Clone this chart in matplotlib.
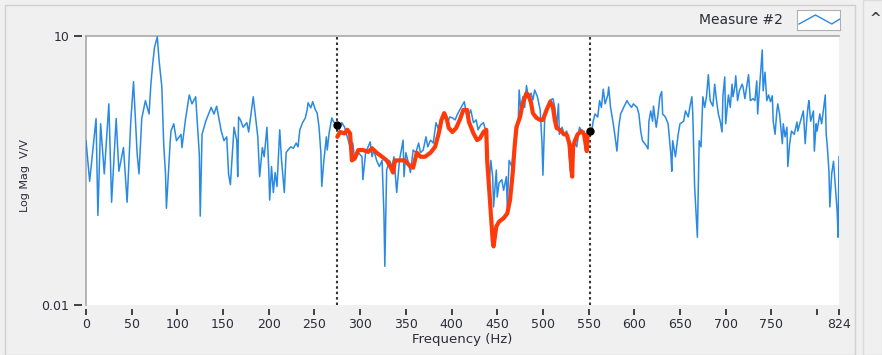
import matplotlib
matplotlib.use("Agg")
import matplotlib.pyplot as plt
import matplotlib.ticker as ticker
from matplotlib.lines import Line2D
from matplotlib.patches import Rectangle

# measured trace (Measure #2)
freq_blue = [
    0, 4, 11, 13, 16, 20, 25, 28, 33, 36,
    41, 45, 49, 52, 56, 58, 61, 65, 69, 71,
    73, 75, 78, 80, 83, 85, 87, 88, 92, 93,
    96, 99, 104, 105, 109, 113, 116, 120, 124, 125,
    127, 131, 137, 140, 143, 148, 151, 154, 156, 158,
    162, 165, 166, 167, 169, 172, 176, 178, 183, 185,
    188, 190, 193, 195, 198, 200, 201, 203, 205, 207,
    209, 212, 214, 217, 219, 221, 224, 227, 230, 232,
    234, 237, 240, 242, 243, 246, 248, 251, 253, 255,
    257, 258, 260, 263, 264, 266, 269, 271, 275, 277,
    280, 283, 286, 289, 292, 294, 298, 302, 303, 306,
    311, 313, 315, 318, 321, 324, 326, 327, 329, 332,
    335, 337, 340, 343, 347, 348, 350, 353, 355, 358,
    361, 364, 366, 369, 372, 374, 377, 380, 383, 386,
    388, 391, 393, 396, 398, 401, 404, 406, 409, 412,
    414, 416, 418, 421, 424, 427, 429, 432, 435, 437,
    439, 440, 441, 443, 445, 446, 449, 450, 452, 455,
    457, 460, 461, 463, 466, 467, 469, 471, 473, 474,
    476, 478, 480, 482, 484, 487, 489, 491, 494, 497,
    499, 500, 502, 505, 508, 511, 513, 515, 517, 518,
    521, 523, 526, 528, 530, 532, 534, 537, 540, 543,
    545, 548, 551, 553, 555, 557, 560, 562, 564, 566,
    568, 571, 572, 574, 577, 579, 581, 583, 585, 589,
    592, 594, 597, 599, 603, 605, 607, 609, 613, 615,
    616, 618, 620, 621, 624, 626, 628, 630, 631, 634,
    637, 638, 640, 641, 642, 645, 648, 650, 654, 656,
    659, 661, 663, 664, 666, 669, 670, 671, 673, 675,
    677, 679, 681, 683, 686, 688, 690, 692, 694, 696,
    697, 699, 700, 703, 705, 707, 708, 710, 711, 713,
    715, 718, 719, 721, 723, 725, 727, 730, 732, 734,
    735, 738, 740, 741, 743, 745, 747, 749, 751, 752,
    754, 756, 757, 759, 762, 763, 765, 767, 768, 770,
    772, 775, 778, 779, 781, 784, 785, 787, 789, 790,
    791, 793, 796, 797, 799, 800, 803, 805, 806, 809,
    810, 811, 813, 814, 816, 818, 820, 822, 823, 824,
]
mag_blue = [
    0.68, 0.24, 1.2, 0.10, 1.05, 0.29, 1.75, 0.14, 1.2, 0.31,
    0.57, 0.14, 1.12, 3.1, 0.48, 0.29, 1.2, 1.9, 1.35, 2.9,
    4.9, 7.5, 9.8, 5.3, 2.7, 0.63, 0.29, 0.12, 0.63, 0.87,
    1.05, 0.68, 0.80, 0.57, 1.2, 2.2, 1.75, 2.1, 0.48, 0.098,
    0.80, 1.12, 1.6, 1.35, 1.65, 0.87, 0.68, 0.75, 0.29, 0.22,
    0.96, 0.68, 0.27, 1.25, 1.16, 0.96, 1.08, 0.85, 2.1, 1.38,
    0.75, 0.27, 0.57, 0.45, 0.96, 0.32, 0.148, 0.35, 0.18, 0.30,
    0.21, 0.90, 0.41, 0.18, 0.50, 0.535, 0.58, 0.56, 0.64, 0.58,
    0.90, 1.08, 1.22, 1.50, 1.8, 1.58, 1.85, 1.50, 1.38, 0.96,
    0.50, 0.21, 0.38, 0.75, 0.535, 0.82, 1.22, 1.10, 1.02, 0.90,
    1.08, 0.96, 0.75, 0.58, 0.64, 0.41, 0.50, 0.45, 0.25, 0.50,
    0.66, 0.45, 0.535, 0.41, 0.35, 0.41, 0.105, 0.027, 0.32, 0.41,
    0.35, 0.45, 0.18, 0.41, 0.69, 0.27, 0.50, 0.38, 0.30, 0.535,
    0.50, 0.64, 0.50, 0.535, 0.75, 0.58, 0.69, 0.64, 1.08, 0.90,
    1.16, 1.31, 1.25, 1.10, 1.25, 1.22, 1.16, 1.31, 1.50, 1.7,
    1.85, 1.38, 1.25, 1.50, 1.08, 1.16, 0.90, 1.02, 1.08, 0.90,
    0.58, 0.35, 0.21, 0.41, 0.27, 0.124, 0.32, 0.16, 0.23, 0.25,
    0.19, 0.27, 0.124, 0.41, 0.35, 0.45, 0.58, 0.75, 1.08, 2.5,
    1.38, 2.1, 1.6, 2.8, 2.1, 2.3, 1.93, 2.5, 2.1, 1.50,
    0.64, 0.28, 1.25, 1.50, 1.93, 2.0, 1.6, 0.96, 1.75, 0.80,
    0.96, 0.80, 0.87, 0.63, 0.31, 0.52, 0.68, 0.58, 0.96, 0.85,
    0.87, 0.63, 0.87, 0.80, 1.12, 1.35, 1.25, 1.9, 1.6, 2.55,
    1.75, 2.2, 2.7, 1.6, 1.05, 0.75, 0.52, 0.96, 1.35, 1.65,
    1.9, 1.75, 1.6, 1.75, 1.6, 1.35, 0.87, 0.68, 0.60, 0.55,
    1.12, 1.46, 1.12, 1.65, 0.96, 1.35, 2.1, 2.4, 1.35, 1.25,
    1.05, 0.80, 0.48, 0.31, 0.68, 0.45, 0.80, 1.05, 1.12, 1.46,
    1.25, 1.65, 2.1, 1.35, 0.21, 0.057, 0.21, 0.68, 0.58, 2.1,
    1.6, 2.1, 3.7, 1.9, 1.65, 2.9, 1.9, 1.35, 1.12, 0.85,
    2.15, 3.5, 1.05, 2.2, 1.6, 2.9, 2.1, 2.7, 3.6, 1.9,
    2.45, 2.9, 2.7, 2.0, 2.7, 3.7, 1.9, 2.0, 1.9, 3.15,
    1.35, 3.7, 7.0, 2.45, 3.95, 1.9, 2.2, 1.85, 2.15, 1.12,
    0.80, 1.46, 1.75, 1.35, 0.63, 1.05, 0.75, 0.96, 0.35, 0.63,
    0.87, 0.80, 1.10, 0.87, 1.05, 1.35, 1.46, 0.63, 1.25, 1.6,
    1.9, 1.12, 1.46, 0.52, 1.05, 0.87, 1.35, 1.05, 1.25, 2.2,
    0.80, 0.63, 0.31, 0.124, 0.29, 0.40, 0.21, 0.11, 0.057, 0.45,
]

# fitted curve between the cursors
freq_red = [
    275, 278, 283, 286, 289, 291, 294, 298, 303, 309,
    313, 318, 324, 329, 333, 336, 338, 341, 344, 349,
    355, 358, 362, 366, 371, 377, 382, 386, 389, 392,
    395, 397, 401, 405, 409, 413, 417, 419, 424, 428,
    431, 435, 438, 439, 441, 443, 445, 446, 449, 452,
    457, 461, 464, 467, 469, 471, 475, 478, 482, 484,
    487, 489, 493, 497, 500, 504, 508, 511, 513, 515,
    517, 520, 523, 526, 529, 531, 532, 533, 535, 538,
    542, 545, 548, 549, 551,
]
mag_red = [
    0.75, 0.85, 0.82, 0.90, 0.82, 0.41, 0.43, 0.535, 0.535, 0.51,
    0.56, 0.50, 0.45, 0.41, 0.35, 0.30, 0.41, 0.41, 0.41, 0.41,
    0.35, 0.34, 0.50, 0.45, 0.45, 0.50, 0.58, 0.82, 1.16, 1.38,
    1.16, 0.94, 0.85, 0.94, 1.16, 1.50, 1.50, 1.10, 0.82, 0.69,
    0.72, 0.85, 0.90, 0.41, 0.21, 0.105, 0.053, 0.045, 0.075, 0.085,
    0.093, 0.105, 0.148, 0.30, 0.58, 0.96, 1.25, 1.8, 2.3, 2.2,
    1.8, 1.38, 1.22, 1.16, 1.16, 1.50, 1.85, 1.6, 1.16, 0.94,
    0.92, 0.87, 0.80, 0.80, 0.63, 0.35, 0.27, 0.58, 0.68, 0.80,
    0.87, 0.80, 0.52, 0.80, 0.87,
]

cursor_freq = [275, 551]
cursor_mag = [1.02, 0.87]

xticks = [0, 50, 100, 150, 200, 250, 300, 350, 400, 450, 500, 550,
          600, 650, 700, 750, 800, 824]
xtick_labels = ['0', '50', '100', '150', '200', '250', '300', '350', '400',
                '450', '500', '550', '600', '650', '700', '750', '', '824']
yticks = [0.01, 10]
ytick_labels = ['0.01', '10']

W, H = 882, 355
BG = '#f0f0f0'
TXT = '#2b2b3a'

fig = plt.figure(figsize=(W / 100, H / 100), dpi=100, facecolor=BG)
ax = fig.add_axes([86 / W, 50 / H, 753 / W, 269 / H])
ax.set_facecolor('white')

ax.plot(freq_blue, mag_blue, color='#2a8ae2', lw=1.1, zorder=3)
ax.plot(freq_red, mag_red, color='#ff3a0a', lw=3.0, zorder=4,
        solid_joinstyle='round', solid_capstyle='round')
for c in cursor_freq:
    ax.axvline(c, color='#333333', ls=(0, (1.2, 1.4)), lw=1.5, zorder=2)
ax.plot(cursor_freq, cursor_mag, 'o', color='black', ms=5, zorder=5)

ax.set_yscale('log')
ax.set_ylim(0.01, 10)
ax.set_xlim(0, 824)
ax.set_yticks(yticks)
ax.set_yticklabels(ytick_labels)
ax.yaxis.set_minor_locator(ticker.NullLocator())
ax.set_xticks(xticks)
ax.set_xticklabels(xtick_labels)

for s in ['right', 'bottom', 'left']:
    ax.spines[s].set_visible(False)
ax.spines['bottom'].set_position(('outward', 3))
ax.spines['left'].set_position(('outward', 3))
ax.spines['top'].set_color('#a8a8a8')
ax.spines['top'].set_linewidth(1.2)
ax.add_line(Line2D([0, 0], [0, 1], transform=ax.transAxes, color='#a8a8a8',
                   lw=1.2, clip_on=False))

ax.tick_params(axis='x', direction='out', length=4, width=1.3, color='#333333',
               labelsize=9, labelcolor=TXT, pad=2)
ax.tick_params(axis='y', direction='out', length=6, width=1.3, color='#333333',
               labelsize=9, labelcolor=TXT, pad=3)
ax.set_xlabel('Frequency (Hz)', fontsize=9.5, color=TXT, labelpad=2)
fig.text(25 / W, 1 - 175 / H, 'Log Mag  V/V', rotation=90, fontsize=8,
         color=TXT, ha='center', va='center')

# panel frame and scrollbar strip
fig.patches.append(Rectangle((5 / W, 0), 850 / W, 1 - 5 / H, transform=fig.transFigure,
                             facecolor=BG, edgecolor='#d0d0d0', lw=1, zorder=-10))
fig.patches.append(Rectangle((863 / W, 0), 19 / W, 1, transform=fig.transFigure,
                             facecolor='#f0f0f0', edgecolor='#dcdcdc', lw=1, zorder=-10))
fig.text(875 / W, 1 - 19 / H, '^', fontsize=10, fontweight='bold', color='#444444',
         ha='center', va='center')

# legend
fig.text(783 / W, 1 - 20 / H, 'Measure #2', fontsize=10, color=TXT,
         ha='right', va='center')
lax = fig.add_axes([797 / W, 1 - 30 / H, 43 / W, 20 / H])
lax.set_facecolor('white')
lax.plot([0, 0.4, 0.8, 1.0], [0.3, 0.75, 0.3, 0.55], color='#2a8ae2', lw=1)
lax.set_xlim(-0.05, 1.0)
lax.set_ylim(0, 1)
lax.set_xticks([])
lax.set_yticks([])
for s in lax.spines.values():
    s.set_color('#b0b0b0')
    s.set_linewidth(0.8)

fig.savefig('out.png', dpi=100, facecolor=BG)
